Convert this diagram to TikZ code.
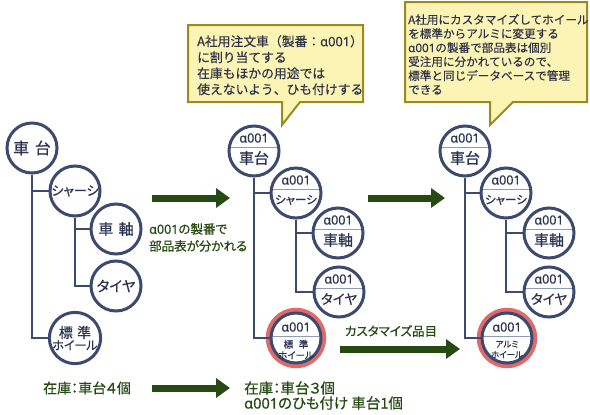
\documentclass[tikz,border=0pt]{standalone}
\usepackage{fontspec}
\setmainfont{Noto Sans CJK JP}[RawFeature={+palt;embolden=0.6}]
\newfontfamily\fwf{Noto Sans CJK JP}[RawFeature={embolden=0.4}]
\newfontfamily\latf{Noto Sans}[RawFeature={embolden=0.5}]
\usetikzlibrary{arrows.meta,calc}
\definecolor{navy}{HTML}{3B4A6E}
\definecolor{navytext}{HTML}{2A3450}
\definecolor{divc}{HTML}{8F9CB8}
\definecolor{ringred}{HTML}{E06A6A}
\definecolor{dgreen}{HTML}{254A12}
\definecolor{calfill}{HTML}{FCF4B4}
\definecolor{caldraw}{HTML}{9C8A1E}
\definecolor{caltext}{HTML}{30344A}
\newcommand\aoo{{\latf α001}}
\newcommand\fs[2]{\fontsize{#1}{#2}\selectfont}
\begin{document}
\begin{tikzpicture}[x=1pt,y=-1pt,
  circ/.style={circle, draw=navy, line width=3pt, fill=white, minimum size=50pt, inner sep=0pt, text=navytext, align=center},
  divd/.style={path picture={\draw[divc, line width=1pt] ([yshift=#1]path picture bounding box.west) -- ([yshift=#1]path picture bounding box.east);}},
  divd/.default=4pt,
  redring/.style={preaction={draw=ringred, line width=10.5pt}},
  atext/.style={inner sep=0pt, text=navytext, font=\fs{12.5}{13}},
  btext/.style={inner sep=0pt, text=navytext, font=\fs{15}{15}},
  tree/.style={draw=navy, line width=2.4pt},
  garrow/.style={draw=dgreen, line width=7pt, -{Triangle[length=14pt,width=19pt]}},
  callout/.style={fill=calfill, draw=caldraw, line width=2pt, line join=miter},
  ctext/.style={inner sep=0pt, text=caltext, align=left},
  gtext/.style={inner sep=0pt, text=dgreen}]
\useasboundingbox (0,0) rectangle (590,415);

% ---------- left tree ----------
\node[circ] (L1) at (32,148) {\fs{16}{16}車\hspace{0.35em}台};
\node[circ] (L2) at (75,191) {\fs{13}{13}シャーシ};
\node[circ] (L3) at (116,229) {\fs{15}{15}車\hspace{0.35em}軸};
\node[circ] (L4) at (116,286) {\fs{14.5}{14}タイヤ};
\node[circ] (L5) at (75,338) {\fs{14}{16}標\hspace{0.3em}準\\\fs{12}{12}ホイール};
\draw[tree] (L1.south) |- (L2.west);
\draw[tree] (L1.south) |- (L5.west);
\draw[tree] (L2.south) |- (L3.west);
\draw[tree] (L2.south) |- (L4.west);

% ---------- middle tree ----------
\node[circ,divd] (M1) at (254,151) {};
\node[atext] (M1a) at ($(M1)+(0,-13)$) {\aoo};
\node[btext] (M1b) at ($(M1)+(0,7)$) {車台};
\node[circ,divd] (M2) at (296,193) {};
\node[atext] (M2a) at ($(M2)+(0,-13)$) {\aoo};
\node[btext,font=\fs{11.5}{11}] (M2b) at ($(M2)+(0,7)$) {シャーシ};
\node[circ,divd] (M3) at (338,233) {};
\node[atext] (M3a) at ($(M3)+(0,-13)$) {\aoo};
\node[btext] (M3b) at ($(M3)+(0,7)$) {車軸};
\node[circ,divd] (M4) at (339,292) {};
\node[atext] (M4a) at ($(M4)+(0,-13)$) {\aoo};
\node[btext,font=\fs{13.5}{13}] (M4b) at ($(M4)+(0,7)$) {タイヤ};
\node[circ,divd=2pt,redring] (M5) at (296,338) {};
\node[atext] (M5a) at ($(M5)+(0,-11)$) {\aoo};
\node[btext,align=center,font=\fs{9.5}{11}] (M5b) at ($(M5)+(0,11.5)$) {標\hspace{0.6em}準\\ホイール};
\draw[tree] (M1.south) |- (M2.west);
\draw[tree] (M1.south) |- (M5.west);
\draw[tree] (M2.south) |- (M3.west);
\draw[tree] (M2.south) |- (M4.west);

% ---------- right tree ----------
\node[circ,divd] (R1) at (465,151) {};
\node[atext] (R1a) at ($(R1)+(0,-13)$) {\aoo};
\node[btext] (R1b) at ($(R1)+(0,7)$) {車台};
\node[circ,divd] (R2) at (506,193) {};
\node[atext] (R2a) at ($(R2)+(0,-13)$) {\aoo};
\node[btext,font=\fs{11.5}{11}] (R2b) at ($(R2)+(0,7)$) {シャーシ};
\node[circ,divd] (R3) at (549,233) {};
\node[atext] (R3a) at ($(R3)+(0,-13)$) {\aoo};
\node[btext] (R3b) at ($(R3)+(0,7)$) {車軸};
\node[circ,divd] (R4) at (549,292) {};
\node[atext] (R4a) at ($(R4)+(0,-13)$) {\aoo};
\node[btext,font=\fs{13.5}{13}] (R4b) at ($(R4)+(0,7)$) {タイヤ};
\node[circ,divd=2pt,redring] (R5) at (507,338) {};
\node[atext] (R5a) at ($(R5)+(0,-11)$) {\aoo};
\node[btext,align=center,font=\fs{8.5}{10.5}] (R5b) at ($(R5)+(0,11.5)$) {アルミ\\ホイール};
\draw[tree] (R1.south) |- (R2.west);
\draw[tree] (R1.south) |- (R5.west);
\draw[tree] (R2.south) |- (R3.west);
\draw[tree] (R2.south) |- (R4.west);

% ---------- callouts ----------
\draw[callout] (188,25) -- (363,25) -- (363,102) -- (300,102) -- (282,125) -- (282,102) -- (188,102) -- cycle;
\node[ctext, anchor=north west, font=\fwf\fs{12.8}{16}] (C1) at (197,35) {A社用注文車（製番：\aoo）\\に割り当てする\\在庫もほかの用途では\\使えないよう、ひも付けする};
\draw[callout] (405,2) -- (587,2) -- (587,102) -- (513,102) -- (490,125) -- (490,102) -- (405,102) -- cycle;
\node[ctext, anchor=north west, font=\fwf\fs{11.6}{14}] (C2) at (408,14) {A社用にカスタマイズしてホイール\\を標準からアルミに変更する\\\aoo の製番で部品表は個別\\受注用に分かれているので、\\標準と同じデータベースで管理\\できる};

% ---------- arrows ----------
\coordinate (A1s) at (152,198); \coordinate (A1e) at (230,198);
\coordinate (A2s) at (368,198); \coordinate (A2e) at (445,198);
\coordinate (A3s) at (340,349); \coordinate (A3e) at (460,349);
\coordinate (A4s) at (152,388); \coordinate (A4e) at (230,388);
\draw[garrow] (A1s) -- (A1e);
\draw[garrow] (A2s) -- (A2e);
\draw[garrow] (A3s) -- (A3e);
\draw[garrow] (A4s) -- (A4e);

% ---------- texts ----------
\node[gtext, anchor=west, align=left, font=\fs{12.5}{17}] (T1) at (149,237.5) {\aoo の製番で\\部品表が分かれる};
\node[gtext, font=\fs{12.5}{13}] (T2) at (391,331) {カスタマイズ品目};
\node[gtext, anchor=west, font=\fs{14}{14}] (T3) at (43,388) {在庫：車台４個};
\node[gtext, anchor=west, align=left, font=\fs{14.5}{15}] (T4) at (244,395.5) {在庫：車台３個\\\aoo のひも付け 車台1個};
\end{tikzpicture}
\end{document}
